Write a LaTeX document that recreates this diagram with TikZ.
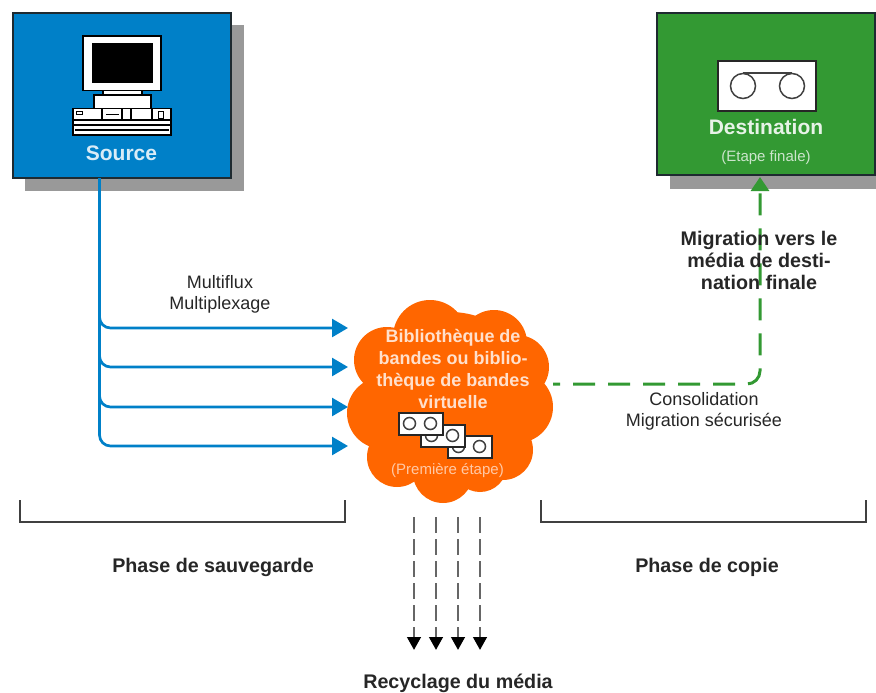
\documentclass[tikz,border=0pt]{standalone}
\usepackage{fontspec}
\setmainfont{Liberation Sans}
\usetikzlibrary{arrows.meta}

\definecolor{srcblue}{HTML}{0080C8}
\definecolor{dstgreen}{HTML}{339933}
\definecolor{cloudorange}{HTML}{FF6600}
\definecolor{shadowgray}{HTML}{999999}
\definecolor{edgedark}{HTML}{1E2A30}

\tikzset{
    boxshadow/.style = {fill = shadowgray, draw = none, minimum width = 219, minimum height = 166, inner sep = 0},
    mainbox/.style = {draw = edgedark, line width = 2, minimum width = 218, minimum height = 165, inner sep = 0},
    iconpart/.style = {draw = black, fill = white, line width = 1.8},
    tapebox/.style = {draw = black!85, fill = white, line width = 2},
    reel/.style = {draw = black!75, line width = 1.5},
    boldlabel/.style = {font = \bfseries\fontsize{19.7}{22}\selectfont, text = black!85, inner sep = 0},
    smalllabel/.style = {font = \fontsize{18}{21}\selectfont, text = black!85, align = center, inner sep = 0},
    blueline/.style = {draw = srcblue, line width = 2.7, rounded corners = 11, -{Triangle[length = 16, width = 18]}},
    greenline/.style = {draw = dstgreen, line width = 3, rounded corners = 13, dash pattern = on 22 off 13, dash phase = 15, -{Triangle[length = 14, width = 18]}},
    recycleline/.style = {draw = black!60, line width = 2.8, dash pattern = on 16 off 6, -{Triangle[length = 13, width = 13.5, black]}},
    bracket/.style = {draw = black!75, line width = 1.5}
}

\begin{document}
\begin{tikzpicture}[x = 1pt, y = -1pt]
    \useasboundingbox (0, 0) rectangle (876, 693);

    % source box
    \node [boxshadow] at (134, 108) {};
    \node [mainbox, fill = srcblue] (source) at (122, 95.5) {};

    % computer
    \draw [iconpart] (83, 36) rectangle (161, 90.5);
    \draw [black, fill = black] (92.5, 43.5) rectangle (152, 82);
    \draw [iconpart] (103, 90.5) rectangle (142, 95);
    \draw [iconpart] (94, 95) rectangle (151, 108.5);
    \draw [iconpart] (73, 108.5) rectangle (171, 135);
    \draw [black, line width = 1.4] (73, 120) -- (171, 120);
    \draw [black, line width = 1.4] (73, 125) -- (171, 125);
    \draw [black, line width = 1.4] (75, 130) -- (169, 130);
    \draw [black, line width = 1.2] (102, 108.5) -- (102, 120);
    \draw [black, line width = 1.2] (122, 108.5) -- (122, 120);
    \draw [black, line width = 1.2] (131, 108.5) -- (131, 120);
    \draw [black, line width = 1.2] (152, 108.5) -- (152, 120);
    \draw [black, line width = 1.2] (106, 114.5) -- (119, 114.5);
    \draw [black, line width = 0.8] (76, 111) rectangle (82, 114);
    \draw [black, line width = 1.0] (158, 111) rectangle (163, 118);

    \node [text = white!85!srcblue, font = \bfseries\fontsize{21}{24}\selectfont, inner sep = 0] (sourcelabel) at (121.5, 153) {Source};

    % destination box
    \node [boxshadow] at (779, 106) {};
    \node [mainbox, fill = dstgreen, minimum height = 162] (destination) at (766, 94) {};

    \draw [tapebox] (718, 61) rectangle (816, 110.5);
    \draw [reel] (743, 73) -- (792, 73);
    \draw [reel, fill = white] (743, 86) circle [radius = 12.5];
    \draw [reel, fill = white] (792, 86) circle [radius = 12.5];

    \node [text = white!88!dstgreen, font = \bfseries\fontsize{21}{24}\selectfont, inner sep = 0] (destinationlabel) at (766, 127) {Destination};
    \node [text = white!75!dstgreen, font = \fontsize{15}{18}\selectfont, inner sep = 0] (destinationstep) at (766, 158) {(Etape finale)};

    % cloud
    \fill [cloudorange] (450, 400) ellipse [x radius = 88, y radius = 88];
    \foreach \cx/\cy/\cr in {430/337/37, 494/343/33, 387/360/33, 517/367/32, 383/413/36, 517/407/36, 397/457/30, 503/450/30, 443/473/30, 480/465/27}
        \fill [cloudorange] (\cx, \cy) circle [radius = \cr];

    \node [text = white!80!cloudorange, font = \bfseries\fontsize{18}{22}\selectfont, align = center, inner sep = 0] (cloudlabel) at (453, 368.5) {Bibliothèque de\\bandes ou biblio-\\thèque de bandes\\virtuelle};
    \node [text = white!65!cloudorange, font = \fontsize{15}{18}\selectfont, inner sep = 0] (cloudstep) at (447.5, 470.5) {(Première étape)};

    % tapes in the cloud
    \foreach \tx/\ty in {447.5/435.5, 420.5/424.5, 398.5/412.5} {
        \draw [tapebox] (\tx, \ty) rectangle ++(44, 22.5);
        \draw [reel, fill = white] (\tx + 11, \ty + 11) circle [radius = 6];
        \draw [reel, fill = white] (\tx + 32, \ty + 11) circle [radius = 6];
    }

    % connectors
    \coordinate (sourceout) at (99.5, 178);
    \coordinate (backupa) at (348, 328);
    \coordinate (backupb) at (348, 367);
    \coordinate (backupc) at (348, 407);
    \coordinate (backupd) at (348, 446);
    \coordinate (cloudout) at (553, 384);
    \coordinate (destinationin) at (760, 177);

    \draw [blueline] (sourceout) |- (backupa);
    \draw [blueline] (sourceout) |- (backupb);
    \draw [blueline] (sourceout) |- (backupc);
    \draw [blueline] (sourceout) |- (backupd);
    \draw [greenline] (cloudout) -| (destinationin);

    \foreach \rx/\rname in {414/a, 436/b, 458/c, 480/d} {
        \coordinate (recyclestart\rname) at (\rx, 517);
        \coordinate (recycleend\rname) at (\rx, 650);
        \draw [recycleline] (recyclestart\rname) -- (recycleend\rname);
    }

    % brackets
    \draw [bracket] (20, 500) -- (20, 522) -- (345, 522) -- (345, 500);
    \draw [bracket] (541, 500) -- (541, 522) -- (866, 522) -- (866, 500);

    % labels
    \node [smalllabel] (multiflux) at (220, 294.5) {Multiflux\\Multiplexage};
    \node [smalllabel] (consolidation) at (704, 411.5) {Consolidation\\Migration sécurisée};
    \node [boldlabel, align = center] (migration) at (759, 260) {Migration vers le\\média de desti-\\nation finale};
    \node [boldlabel] (backupphase) at (213, 567.5) {Phase de sauvegarde};
    \node [boldlabel] (copyphase) at (707, 567.5) {Phase de copie};
    \node [boldlabel] (recycling) at (458, 683.5) {Recyclage du média};
\end{tikzpicture}
\end{document}
